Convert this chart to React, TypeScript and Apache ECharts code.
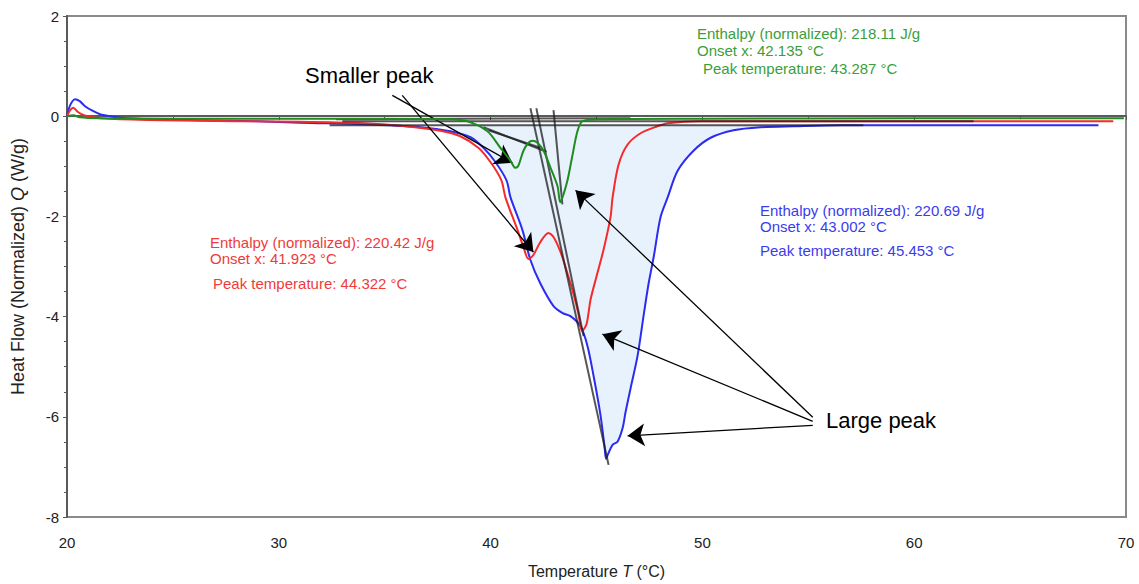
import React, { useEffect, useRef } from "react";
import * as echarts from "echarts";

// ---- data (Temperature °C, Heat flow W/g) ----
const blueCurve: number[][] = [
  [20, 0], [20.15, 0.22], [20.38, 0.34], [20.6, 0.3], [20.85, 0.2], [21.2, 0.11], [21.56, 0.04],
  [22, 0], [22.5, -0.03], [24, -0.06], [26.3, -0.08], [29, -0.1], [31, -0.13], [34, -0.16],
  [36.7, -0.22], [38.1, -0.3], [39.05, -0.42], [39.66, -0.63], [40.2, -0.9], [40.75, -1.28],
  [40.94, -1.62], [41.5, -2.27], [41.88, -2.87], [42.35, -3.34], [42.97, -3.79], [43.4, -3.93],
  [43.77, -3.99], [44.24, -4.19], [44.57, -4.58], [44.86, -5.18], [45.19, -5.97], [45.38, -6.6],
  [45.45, -6.84], [45.55, -6.74], [45.76, -6.56], [45.99, -6.5], [46.23, -6.23], [46.37, -5.91],
  [46.61, -5.43], [46.94, -4.78], [47.22, -3.99], [47.46, -3.34], [47.7, -2.81], [48.02, -2.02],
  [48.36, -1.62], [48.83, -1.09], [49.58, -0.69], [50.39, -0.43], [51.47, -0.28], [52.75, -0.22],
  [54.31, -0.2], [56.53, -0.18], [60, -0.18], [68.7, -0.18],
];

const redCurve: number[][] = [
  [20, 0], [20.15, 0.12], [20.3, 0.17], [20.5, 0.09], [20.8, 0.02], [21.2, -0.02], [22, -0.05],
  [24.5, -0.08], [28, -0.1], [31, -0.11], [34, -0.14], [35.74, -0.19], [37.63, -0.29],
  [38.57, -0.4], [39.42, -0.63], [40.0, -0.92], [40.51, -1.28], [40.7, -1.62], [41.27, -2.27],
  [41.55, -2.61], [41.79, -2.85], [42.02, -2.77], [42.35, -2.51], [42.73, -2.33], [42.97, -2.41],
  [43.3, -2.71], [43.63, -3.14], [43.91, -3.54], [44.15, -3.95], [44.32, -4.29], [44.53, -4.15],
  [44.72, -3.66], [45.0, -3.2], [45.33, -2.67], [45.66, -2.02], [45.76, -1.62], [46.04, -0.97],
  [46.46, -0.57], [47.08, -0.34], [47.88, -0.2], [48.36, -0.14], [49.9, -0.1], [60, -0.1],
  [69.4, -0.1],
];

const greenCurve: number[][] = [
  [20, 0], [20.3, 0.02], [20.6, -0.02], [21.5, -0.04], [25, -0.05], [30, -0.05], [35, -0.05],
  [38, -0.06], [38.9, -0.1], [39.85, -0.3], [40.46, -0.63], [40.94, -0.89], [41.17, -1.03],
  [41.31, -0.99], [41.55, -0.69], [41.79, -0.53], [41.98, -0.49], [42.21, -0.53], [42.5, -0.69],
  [42.83, -1.03], [43.16, -1.4], [43.29, -1.72], [43.45, -1.55], [43.63, -1.28], [43.87, -0.77],
  [44.1, -0.3], [44.34, -0.1], [45.19, -0.06], [50, -0.05], [60, -0.04], [69.9, -0.04],
];

// tangent / baseline construction lines (start, end)
const constructionLines: number[][][] = [
  [[32.4, -0.18], [57.6, -0.18]],
  [[33.0, -0.1], [62.8, -0.1]],
  [[32.7, -0.06], [46.6, -0.04]],
  [[41.88, 0.16], [45.57, -6.96]],
  [[42.16, 0.16], [44.39, -4.39]],
  [[42.97, 0.12], [43.39, -1.76]],
  [[39.9, -0.28], [42.35, -0.63]],
  [[39.66, -0.22], [42.64, -0.71]],
];

const blueBaseline = -0.18;
const fillRange = [37, 57.6];

// annotation arrows: [from, to]
const arrows: number[][][] = [
  [[35.36, 0.415], [41.03, -0.93]],
  [[35.83, 0.415], [42.02, -2.71]],
  [[55.21, -6.01], [44.01, -1.48]],
  [[55.21, -6.09], [45.28, -4.35]],
  [[55.21, -6.17], [46.47, -6.38]],
];

const greenNotes = ["Enthalpy (normalized): 218.11 J/g", "Onset x: 42.135 °C", "Peak temperature: 43.287 °C"];
const redNotes = ["Enthalpy (normalized): 220.42 J/g", "Onset x: 41.923 °C", "Peak temperature: 44.322 °C"];
const blueNotes = ["Enthalpy (normalized): 220.69 J/g", "Onset x: 43.002 °C", "Peak temperature: 45.453 °C"];

const xTicks = { min: 20, max: 70, interval: 10 };
const yTicks = { min: -8, max: 2, interval: 2 };

const FONT = "'Liberation Sans', Arial, sans-serif";
const BLUE = "#2b2bf2";
const RED = "#f52a2a";
const GREEN = "#1e8c1e";
const GREEN_TXT = "#3a9e3a";
const RED_TXT = "#ef3b3b";
const BLUE_TXT = "#3b3bee";

export default function App() {
  const ref = useRef<HTMLDivElement>(null);
  useEffect(() => {
    document.body.style.margin = "0";
    const chart = echarts.init(ref.current!, undefined, { renderer: "svg" });

    const noteText = (lines: string[], xs: number[], ys: number[], color: string) =>
      lines.map((t, i) => ({
        type: "text",
        x: xs[i],
        y: ys[i],
        style: { text: t, fill: color, font: `15px ${FONT}`, verticalAlign: "middle" },
        z: 100,
      }));

    const option: any = {
      animation: false,
      grid: {
        left: 67, right: 13, top: 16, bottom: 58, show: true,
        borderColor: "#8a8a8a", borderWidth: 2, backgroundColor: "transparent",
      },
      xAxis: {
        type: "value", ...xTicks,
        name: "{a|Temperature }{i|T}{a| (°C)}",
        nameLocation: "middle", nameGap: 46,
        nameTextStyle: {
          rich: {
            a: { fontSize: 16, fontFamily: FONT, color: "#222" },
            i: { fontSize: 16, fontFamily: FONT, color: "#222", fontStyle: "italic" },
          },
        },
        axisLine: { lineStyle: { color: "#5a5a5a", width: 2 } },
        axisTick: { show: true, length: 4, lineStyle: { color: "#5a5a5a" } },
        minorTick: { show: true, splitNumber: 2, length: 3, lineStyle: { color: "#5a5a5a" } },
        splitLine: { show: false },
        axisLabel: { fontSize: 15, fontFamily: FONT, color: "#222", margin: 18 },
      },
      yAxis: {
        type: "value", ...yTicks,
        name: "{a|Heat Flow (Normalized) }{i|Q}{a| (W/g)}",
        nameLocation: "middle", nameGap: 40,
        nameTextStyle: {
          rich: {
            a: { fontSize: 18, fontFamily: FONT, color: "#222" },
            i: { fontSize: 18, fontFamily: FONT, color: "#222", fontStyle: "italic" },
          },
        },
        axisLine: { lineStyle: { color: "#5a5a5a", width: 2 } },
        axisTick: { show: true, length: 4, lineStyle: { color: "#5a5a5a" } },
        minorTick: { show: true, splitNumber: 4, length: 3, lineStyle: { color: "#5a5a5a" } },
        splitLine: { show: false },
        axisLabel: { fontSize: 15, fontFamily: FONT, color: "#222", margin: 8 },
      },
      series: [
        {
          type: "line",
          data: blueCurve.filter((p) => p[0] >= fillRange[0] && p[0] <= fillRange[1]),
          showSymbol: false,
          lineStyle: { width: 0, opacity: 0 },
          areaStyle: { color: "#e8f2fd", opacity: 1, origin: blueBaseline },
          z: 1,
          silent: true,
        },
        {
          type: "line", data: blueCurve, showSymbol: false, smooth: 0.3,
          lineStyle: { color: BLUE, width: 2 }, z: 3,
        },
        {
          type: "line", data: redCurve, showSymbol: false, smooth: 0.3,
          lineStyle: { color: RED, width: 2 }, z: 4,
        },
        ...constructionLines.map((seg) => ({
          type: "line", data: seg, showSymbol: false,
          lineStyle: { color: "rgba(30,30,30,0.75)", width: 2 }, z: 5, silent: true,
        })),
        {
          type: "line", data: greenCurve, showSymbol: false, smooth: 0.3,
          lineStyle: { color: GREEN, width: 2 }, z: 6,
          markLine: {
            silent: true,
            animation: false,
            symbol: ["none", "arrow"],
            symbolSize: 17,
            label: { show: false },
            lineStyle: { color: "#000", width: 1.3, type: "solid" },
            emphasis: { disabled: true },
            data: arrows.map((a) => [{ coord: a[0] }, { coord: a[1] }]),
          },
        },
      ],
      graphic: [
        ...noteText(greenNotes, [697, 697, 703], [33, 50, 68], GREEN_TXT),
        ...noteText(redNotes, [210, 210, 213], [242, 258, 283], RED_TXT),
        ...noteText(blueNotes, [760, 760, 760], [210, 226, 250], BLUE_TXT),
        {
          type: "text", x: 305, y: 75, z: 100,
          style: { text: "Smaller peak", fill: "#000", font: `22px ${FONT}`, verticalAlign: "middle" },
        },
        {
          type: "text", x: 826, y: 420, z: 100,
          style: { text: "Large peak", fill: "#000", font: `22px ${FONT}`, verticalAlign: "middle" },
        },
      ],
    };
    chart.setOption(option);
    return () => chart.dispose();
  }, []);
  return <div ref={ref} style={{ width: 1139, height: 584 }} />;
}
